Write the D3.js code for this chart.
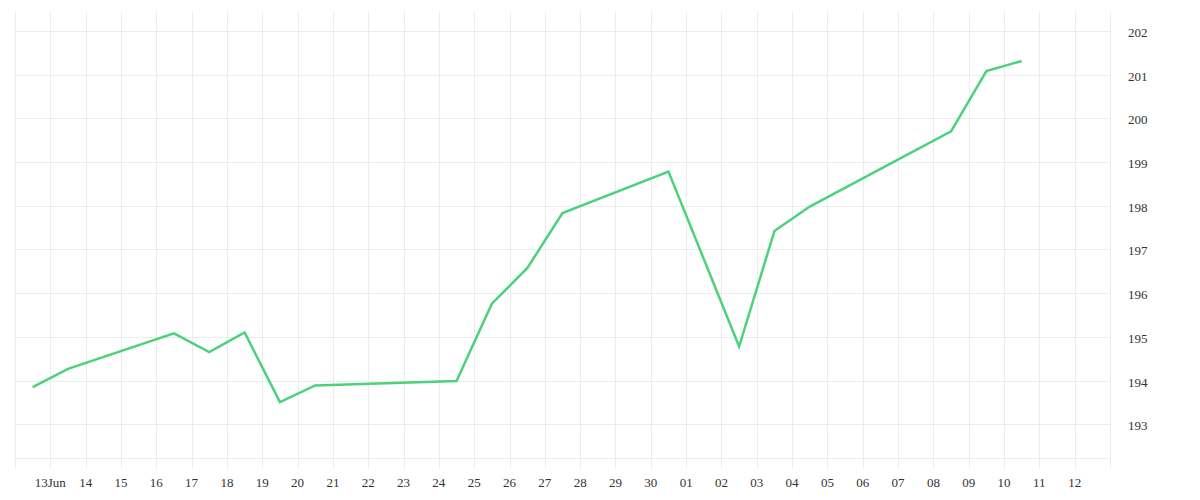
<!DOCTYPE html>
<html>
<head>
<meta charset="utf-8">
<script src="https://cdn.jsdelivr.net/npm/d3@7"></script>
<style>
  body { margin: 0; background: #fff; }
  svg text { font-family: "Liberation Serif", "DejaVu Serif", serif; font-size: 13px; fill: #333; }
</style>
</head>
<body>
<svg width="1200" height="500"></svg>
<script>
// dates of the closes (shown at midday)
const dates = [
  "2019-06-12", "2019-06-13", "2019-06-16", "2019-06-17", "2019-06-18",
  "2019-06-19", "2019-06-20", "2019-06-24", "2019-06-25", "2019-06-26",
  "2019-06-27", "2019-06-30", "2019-07-02", "2019-07-03", "2019-07-04",
  "2019-07-08", "2019-07-09", "2019-07-10"
];
const values = [
  193.85, 194.27, 195.08, 194.65, 195.10,
  193.51, 193.89, 193.99, 195.76, 196.57,
  197.83, 198.78, 194.78, 197.42, 197.98,
  199.70, 201.08, 201.31
];
const yTicks = [193, 194, 195, 196, 197, 198, 199, 200, 201, 202];
const xStart = "2019-06-12";
const xEnd = "2019-07-13";
const yDomain = [192.23, 202.43];

const parse = d3.timeParse("%Y-%m-%d");
const data = dates.map((d, i) => ({ date: d3.timeHour.offset(parse(d), 12), value: values[i] }));

const svg = d3.select("svg");
const plotLeft = 15, plotRight = 1110, plotTop = 12, plotBottom = 458;

const x = d3.scaleTime()
    .domain([parse(xStart), parse(xEnd)])
    .range([plotLeft, plotRight]);

const y = d3.scaleLinear()
    .domain(yDomain)
    .range([plotBottom, plotTop]);

const gridColor = "#ececec";

// vertical grid, one per day, running down past the plot as tick marks
const days = d3.timeDay.range(parse(xStart), d3.timeDay.offset(parse(xEnd), 1));
svg.append("g")
  .selectAll("line")
  .data(days)
  .join("line")
    .attr("x1", d => Math.round(x(d)) + 0.5).attr("x2", d => Math.round(x(d)) + 0.5)
    .attr("y1", plotTop).attr("y2", plotBottom + 10)
    .attr("stroke", gridColor)
    .attr("stroke-width", 1);

// horizontal grid
svg.append("g")
  .selectAll("line")
  .data(yTicks.concat([yDomain[0]]))
  .join("line")
    .attr("x1", plotLeft).attr("x2", plotRight)
    .attr("y1", d => Math.round(y(d)) + 0.5).attr("y2", d => Math.round(y(d)) + 0.5)
    .attr("stroke", gridColor)
    .attr("stroke-width", 1);

// x labels
const labelDays = days.slice(1, -1);
const fmt = (d, i) => i === 0 ? d3.timeFormat("%d%b")(d) : d3.timeFormat("%d")(d);
svg.append("g")
  .selectAll("text")
  .data(labelDays)
  .join("text")
    .attr("x", d => x(d))
    .attr("y", 487)
    .attr("text-anchor", "middle")
    .text((d, i) => fmt(d, i));

// y labels on the right
svg.append("g")
  .selectAll("text")
  .data(yTicks)
  .join("text")
    .attr("x", 1128)
    .attr("y", d => y(d) + 6)
    .text(d => d);

// price line
const line = d3.line()
    .x(d => x(d.date))
    .y(d => y(d.value));

svg.append("path")
    .datum(data)
    .attr("fill", "none")
    .attr("stroke", "#4cd27a")
    .attr("stroke-width", 2.5)
    .attr("stroke-linejoin", "miter")
    .attr("d", line);
</script>
</body>
</html>
